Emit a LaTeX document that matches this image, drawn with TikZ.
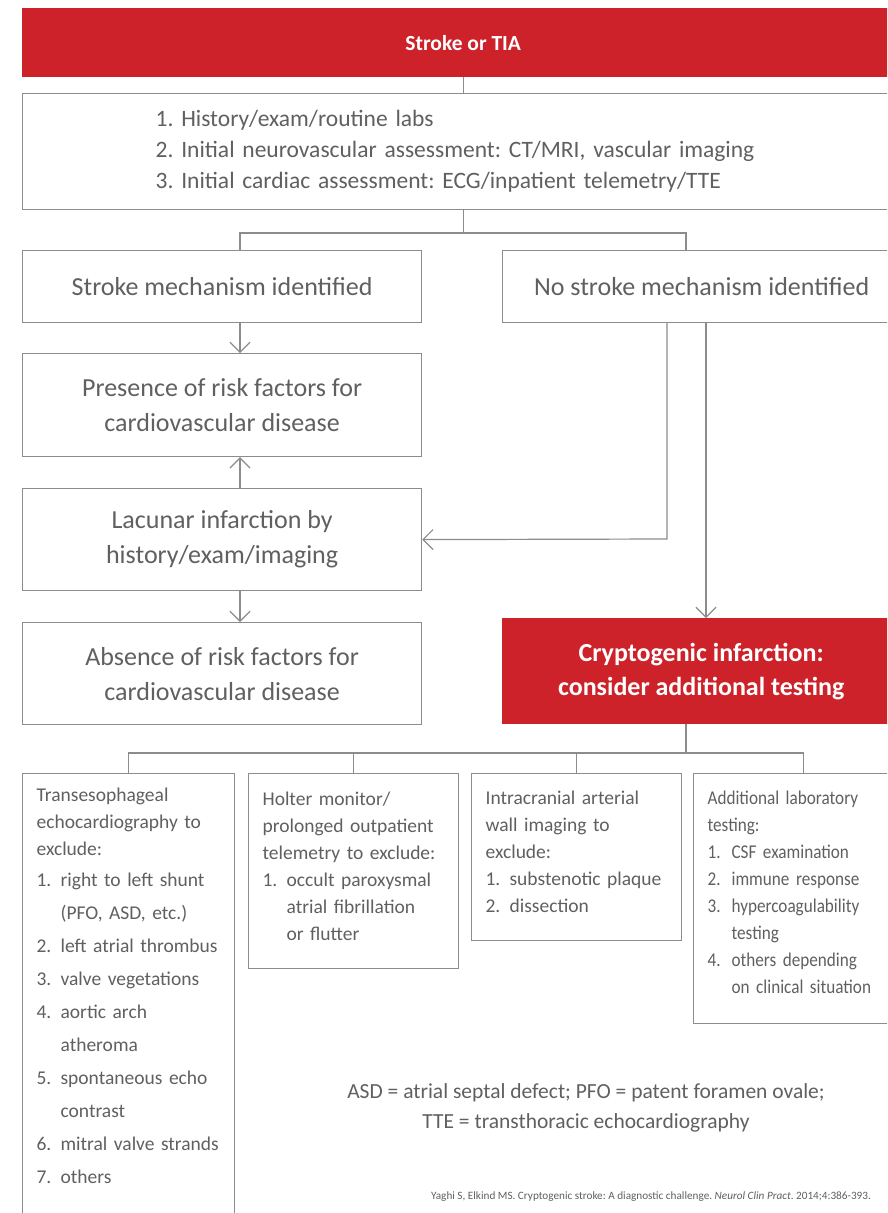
\documentclass[tikz,border=0pt]{standalone}
\usepackage{fontspec}
\setmainfont{Carlito}
\usetikzlibrary{arrows.meta}
\definecolor{strokered}{RGB}{205,34,42}
\definecolor{framegray}{RGB}{140,140,140}
\definecolor{textgray}{RGB}{96,96,96}
\newcommand{\itm}[2]{\makebox[24pt][l]{#1}#2}
\newcommand{\cnt}{\hspace*{24pt}}
\newcommand{\tailpad}[1]{\rule[-#1]{0pt}{0pt}}
\frenchspacing

\begin{document}
\begin{tikzpicture}[x=1pt, y=-1pt,
    redbox/.style={fill=strokered, text=white, anchor=north west, inner sep=0pt, align=center},
    plain/.style={draw=framegray, line width=1.2pt, text=textgray, anchor=north west, inner sep=0pt},
    midbox/.style={plain, align=center, font=\fontsize{26}{35}\selectfont},
    testbox/.style={plain, align=left, inner xsep=14pt, inner ysep=14pt, font=\fontsize{19.5}{27}\selectfont},
    link/.style={draw=framegray, line width=1.2pt},
    arr/.style={link, -{Straight Barb[length=10pt, width=20pt, line width=1.2pt]}}]
  \clip (0,0) rectangle (887,1213);
  \fill[white] (0,0) rectangle (887,1213);

  \node[redbox, minimum width=882pt, minimum height=69pt, font=\bfseries\fontsize{21.5}{24}\selectfont] (tia) at (22,8) {Stroke or TIA};
  \node[plain, minimum width=882pt, minimum height=116pt, text width=660pt, inner xsep=133pt, align=left,
    font=\fontsize{23.5}{31}\selectfont] (workup) at (22,93)
    {1. History/exam/routine labs\\
     2. Initial neurovascular assessment: CT/MRI, vascular imaging\\
     3. Initial cardiac assessment: ECG/inpatient telemetry/TTE};

  \node[midbox, minimum width=399pt, minimum height=72pt] (mech) at (22,250) {Stroke mechanism identified};
  \node[midbox, minimum width=398pt, minimum height=72pt] (nomech) at (502,250) {No stroke mechanism identified};
  \node[midbox, minimum width=399pt, minimum height=103pt] (risk) at (22,353) {Presence of risk factors for\\cardiovascular disease};
  \node[midbox, minimum width=399pt, minimum height=102pt] (lacunar) at (22,488) {Lacunar infarction by\\history/exam/imaging};
  \node[midbox, minimum width=399pt, minimum height=102pt] (norisk) at (22,622) {Absence of risk factors for\\cardiovascular disease};
  \node[redbox, minimum width=398pt, minimum height=106pt, font=\bfseries\fontsize{26}{34}\selectfont] (crypto) at (502,618)
    {Cryptogenic infarction:\\consider additional testing};

  \node[testbox, text width=184pt] (tee) at (22,773)
    {Transesophageal\\
     echocardiography to\\
     exclude:\\[4pt]
     \itm{1.}{right to left shunt}\\[6pt]
     \cnt(PFO, ASD, etc.)\\[6pt]
     \itm{2.}{left atrial thrombus}\\[6pt]
     \itm{3.}{valve vegetations}\\[6pt]
     \itm{4.}{aortic arch}\\[6pt]
     \cnt atheroma\\[6pt]
     \itm{5.}{spontaneous echo}\\[6pt]
     \cnt contrast\\[6pt]
     \itm{6.}{mitral valve strands}\\[6pt]
     \itm{7.}{others}\tailpad{60pt}};
  \node[testbox, text width=182pt, minimum height=195pt] (holter) at (248,773)
    {Holter monitor/\\
     prolonged outpatient\\
     telemetry to exclude:\\
     \itm{1.}{occult paroxysmal}\\
     \cnt atrial fibrillation\\
     \cnt or flutter\tailpad{10pt}};
  \node[testbox, text width=182pt, minimum height=167pt] (wall) at (471,773)
    {Intracranial arterial\\
     wall imaging to\\
     exclude:\\
     \itm{1.}{substenotic plaque}\\
     \itm{2.}{dissection}\tailpad{10pt}};
  \node[testbox, text width=192pt, minimum height=250pt,
    font=\fontsize{19.5}{27}\selectfont\addfontfeature{FakeStretch=0.88}] (labs) at (693,773)
    {Additional laboratory\\
     testing:\\
     \itm{1.}{CSF examination}\\
     \itm{2.}{immune response}\\
     \itm{3.}{hypercoagulability}\\
     \cnt testing\\
     \itm{4.}{others depending}\\
     \cnt on clinical situation\tailpad{12pt}};

  \node[text=textgray, align=center, font=\fontsize{21.5}{30}\selectfont] (abbrev) at (586,1108)
    {ASD = atrial septal defect; PFO = patent foramen ovale;\\TTE = transthoracic echocardiography};
  \node[text=textgray, font=\fontsize{11.2}{13}\selectfont] (source) at (651,1197)
    {Yaghi S, Elkind MS. Cryptogenic stroke: A diagnostic challenge. \textit{Neurol Clin Pract}. 2014;4:386-393.};

  \coordinate (brL) at (240,233);
  \coordinate (brR) at (686,233);
  \coordinate (elbow) at (667,539);
  \coordinate (drop) at (706,0);
  \coordinate (hub) at (686,753);

  \draw[link] (tia.south) -- (tia.south |- workup.north);
  \draw[link] (tia.south |- workup.south) -- (tia.south |- brL);
  \draw[link] (brL |- mech.north) -- (brL) -- (brR) -- (brR |- nomech.north);
  \draw[arr] (mech.south -| brL) -- (risk.north -| brL);
  \draw[arr] (lacunar.north -| brL) -- (risk.south -| brL);
  \draw[arr] (lacunar.south -| brL) -- (norisk.north -| brL);
  \draw[arr] (nomech.south -| elbow) -- (elbow) -- (lacunar.east);
  \draw[arr] (nomech.south -| drop) -- (crypto.north -| drop);
  \draw[link] (crypto.south -| hub) -- (hub);
  \draw[link] (tee.north) -- (tee.north |- hub) -- (labs.north |- hub) -- (labs.north);
  \draw[link] (holter.north) -- (holter.north |- hub);
  \draw[link] (wall.north) -- (wall.north |- hub);
\end{tikzpicture}
\end{document}
